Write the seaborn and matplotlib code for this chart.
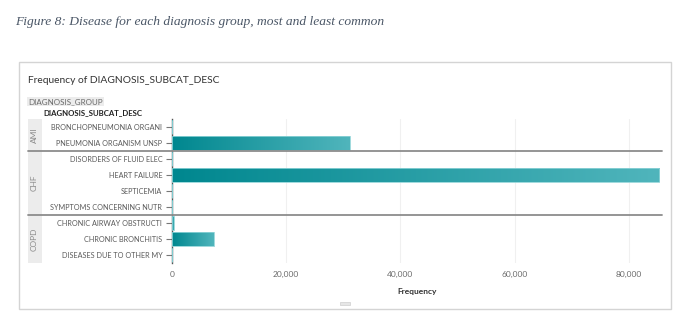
import numpy as np
import pandas as pd
import matplotlib
matplotlib.use("Agg")
import matplotlib.pyplot as plt
import matplotlib.transforms as mtransforms
from matplotlib.patches import Rectangle
from matplotlib.colors import LinearSegmentedColormap
import seaborn as sns

# Diagnosis groups and their sub-category counts
groups = ["AMI", "AMI", "CHF", "CHF", "CHF", "CHF", "COPD", "COPD", "COPD"]
subcats = [
    "BRONCHOPNEUMONIA ORGANI",
    "PNEUMONIA ORGANISM UNSP",
    "DISORDERS OF FLUID ELEC",
    "HEART FAILURE",
    "SEPTICEMIA",
    "SYMPTOMS CONCERNING NUTR",
    "CHRONIC AIRWAY OBSTRUCTI",
    "CHRONIC BRONCHITIS",
    "DISEASES DUE TO OTHER MY",
]
frequency = [60, 31150, 40, 85300, 50, 40, 300, 7350, 40]
x_ticks = [0, 20000, 40000, 60000, 80000]
x_tick_labels = ["0", "20,000", "40,000", "60,000", "80,000"]

df = pd.DataFrame({"group": groups, "subcat": subcats, "freq": frequency})

sns.set_theme(style="white")
plt.rcParams["font.family"] = ["Lato", "DejaVu Sans"]

W, H = 689, 325
fig = plt.figure(figsize=(W / 100, H / 100), dpi=100)
fig.patch.set_facecolor("white")

def fx(px):
    return px / W

def fy(py):
    return 1 - py / H

# Panel frame
fig.add_artist(Rectangle((fx(19), fy(309)), fx(671) - fx(19), fy(62) - fy(309),
                         transform=fig.transFigure, facecolor="white",
                         edgecolor="#d4d4d4", linewidth=1.0, zorder=0))
fig.add_artist(Rectangle((fx(340), fy(305)), fx(10), fy(302) - fy(305),
                         transform=fig.transFigure, facecolor="#e6e6e6",
                         edgecolor="#cfcfcf", linewidth=0.5, zorder=1))

ax = fig.add_axes([fx(172), fy(263), fx(662) - fx(172), fy(119) - fy(263)])
ax.set_facecolor("none")

sns.barplot(data=df, y="subcat", x="freq", order=subcats, orient="h",
            color="#0a929a", width=0.85, ax=ax, zorder=3)

ax.set_xlim(0, 85800)
ax.set_ylim(len(subcats) - 0.5, -0.5)

# Teal gradient along each bar's length
cmap = LinearSegmentedColormap.from_list("teal", ["#00878f", "#50b5bc"])
grad = np.linspace(0, 1, 256).reshape(1, -1)
for p in ax.patches:
    x0, y0 = p.get_x(), p.get_y()
    w, h = p.get_width(), p.get_height()
    if w <= 0:
        continue
    im = ax.imshow(grad, cmap=cmap, aspect="auto", extent=(x0, x0 + w, y0 + h, y0),
                   zorder=3.5, interpolation="bilinear")
    im.set_clip_path(p)
    p.set_edgecolor("#8fd3d7")
    p.set_linewidth(0.6)
    p.set_zorder(4)
    p.set_facecolor("none")
ax.set_xlim(0, 85800)
ax.set_ylim(len(subcats) - 0.5, -0.5)

# Axes styling
for s in ["top", "right", "bottom"]:
    ax.spines[s].set_visible(False)
ax.spines["left"].set_color("#555555")
ax.spines["left"].set_linewidth(1.0)
ax.set_xticks(x_ticks)
ax.set_xticklabels(x_tick_labels)
ax.tick_params(axis="x", length=0, pad=6, labelsize=6, labelcolor="#6b6b6b")
ax.tick_params(axis="y", length=4, width=0.8, color="#777777", pad=3,
               labelsize=5.2, labelcolor="#5a5a5a", left=True)
ax.xaxis.grid(True, color="#f0f0f0", linewidth=0.8)
ax.set_axisbelow(True)
ax.set_ylabel("")
ax.set_xlabel("Frequency", fontsize=6, color="#333333", fontweight="bold", labelpad=7)

# Group bands, separators and group labels
blend = mtransforms.blended_transform_factory(fig.transFigure, ax.transData)
order_groups = list(dict.fromkeys(groups))
idx = np.arange(len(subcats))
for i, g in enumerate(order_groups):
    rows = idx[np.array(groups) == g]
    top, bottom = rows.min() - 0.5, rows.max() + 0.5
    fig.add_artist(Rectangle((fx(27.5), bottom), fx(41.5) - fx(27.5), top - bottom,
                             transform=blend, facecolor="#ececec", edgecolor="none",
                             zorder=1))
    fig.text(fx(34.5), (top + bottom) / 2, g, transform=blend, rotation=90,
             ha="center", va="center", fontsize=6, color="#8a8a8a")
    if i > 0:
        fig.add_artist(plt.Line2D([fx(27.5), fx(662)], [top, top], transform=blend,
                                  color="#8c8c8c", linewidth=1.3, zorder=5))

# Headers
fig.text(fx(28), fy(101.5), "DIAGNOSIS_GROUP", ha="left", va="center", fontsize=5.8,
         color="#6a6a6a",
         bbox=dict(boxstyle="square,pad=0.15", facecolor="#ececec", edgecolor="none"))
fig.text(fx(43), fy(112.5), "DIAGNOSIS_SUBCAT_DESC", ha="left", va="center",
         fontsize=5.6, color="#222222", fontweight="bold")

fig.text(fx(28), fy(80.5), "Frequency of DIAGNOSIS_SUBCAT_DESC", ha="left",
         va="center", fontsize=7.4, color="#333333")

fig.text(fx(15), fy(21.5), "Figure 8: Disease for each diagnosis group, most and least common",
         ha="left", va="center", fontsize=9.7, color="#4a5666", style="italic",
         family=["Liberation Serif", "DejaVu Serif"])

fig.savefig("out.png", dpi=100, facecolor="white")
